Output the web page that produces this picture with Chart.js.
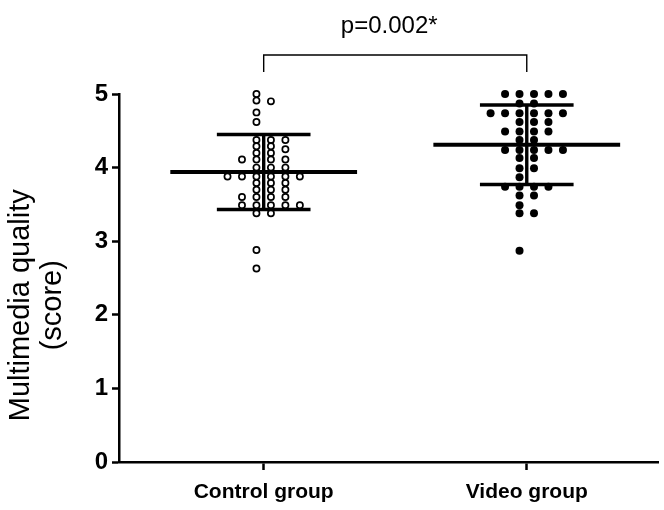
<!DOCTYPE html>
<html>
<head>
<meta charset="utf-8">
<script src="https://cdn.jsdelivr.net/npm/chart.js@4.4.0/dist/chart.umd.min.js"></script>
<style>
  html, body { margin: 0; padding: 0; background: #fff; }
  #wrap { width: 664px; height: 510px; }
</style>
</head>
<body>
<div id="wrap"><canvas id="chart"></canvas></div>
<script>
// groups on the x axis
const groups = ['Control group', 'Video group'];

// individual scores
const controlScores = [
  5.0, 4.91, 4.9, 4.75, 4.62,
  4.375, 4.375, 4.375, 4.29, 4.29, 4.25, 4.2, 4.2,
  4.11, 4.11, 4.11, 4.11, 4.0, 4.0, 4.0,
  3.88, 3.88, 3.88, 3.88, 3.88, 3.88,
  3.79, 3.79, 3.79, 3.7, 3.7, 3.7,
  3.6, 3.6, 3.6, 3.6,
  3.49, 3.49, 3.49, 3.49, 3.49,
  3.38, 3.38, 2.88, 2.63
];
const videoScores = [
  5.0, 5.0, 5.0, 5.0, 5.0, 4.87, 4.87,
  4.74, 4.74, 4.74, 4.74, 4.74, 4.74,
  4.62, 4.62, 4.62, 4.49, 4.49, 4.49, 4.49,
  4.375, 4.375, 4.24, 4.24, 4.24, 4.24, 4.24,
  4.13, 4.13, 3.99, 3.99, 3.87,
  3.74, 3.74, 3.74, 3.74, 3.62, 3.62,
  3.49, 3.38, 3.38, 2.87
];

// mean +/- SD bars
const groupMeans = [3.94, 4.31];
const groupSD = [0.51, 0.54];

// y axis range
const yMin = 0;
const yMax = 5;
const yStep = 1;

const yTitle = ['Multimedia quality', '(score)'];
const pLabel = 'p=0.002*';

const FONT = '"Liberation Sans", Arial, sans-serif';

// horizontal spread of tied dots (Prism style scatter)
const SLOT = 0.055;
const MIN_GAP = 0.082;
const slotOrder = [-0.5, 0.5, 1.5, -1.5, 2.5, -2.5, 3.5, -3.5];

function swarm(scores, center) {
  const last = {};
  return scores.slice().sort((a, b) => b - a).map(v => {
    let s = slotOrder.find(k => last[k] === undefined || last[k] - v >= MIN_GAP - 1e-9);
    if (s === undefined) s = slotOrder[slotOrder.length - 1];
    last[s] = v;
    return { x: center + s * SLOT, y: v };
  });
}

const MEAN_HALF = 0.355;
const SD_HALF = 0.178;

function seg(data, width) {
  return {
    type: 'line',
    data: data,
    borderColor: '#000',
    borderWidth: width,
    borderCapStyle: 'butt',
    pointRadius: 0,
    fill: false,
    clip: false,
    order: 1
  };
}

const barSets = [];
groups.forEach((g, i) => {
  const m = groupMeans[i], sd = groupSD[i];
  barSets.push(seg([{ x: i - MEAN_HALF, y: m }, { x: i + MEAN_HALF, y: m }], 4));
  barSets.push(seg([{ x: i - SD_HALF, y: m + sd }, { x: i + SD_HALF, y: m + sd }], 3.4));
  barSets.push(seg([{ x: i - SD_HALF, y: m - sd }, { x: i + SD_HALF, y: m - sd }], 3.4));
  barSets.push(seg([{ x: i, y: m - sd }, { x: i, y: m + sd }], 3.4));
});

// bracket with p value, and the y title
const extrasPlugin = {
  id: 'extras',
  afterDatasetsDraw(chart) {
    const { ctx, scales } = chart;
    const x0 = scales.x.getPixelForValue(0);
    const x1 = scales.x.getPixelForValue(1);
    const yTop = scales.y.getPixelForValue(5.53);
    const yLeg = scales.y.getPixelForValue(5.3);
    ctx.save();
    ctx.strokeStyle = '#000';
    ctx.lineWidth = 1.4;
    ctx.beginPath();
    ctx.moveTo(x0, yLeg);
    ctx.lineTo(x0, yTop);
    ctx.lineTo(x1, yTop);
    ctx.lineTo(x1, yLeg);
    ctx.stroke();
    ctx.fillStyle = '#000';
    ctx.font = '24px ' + FONT;
    ctx.textAlign = 'center';
    ctx.textBaseline = 'alphabetic';
    ctx.fillText(pLabel, (x0 + x1) / 2 - 6, yTop - 22);

    // y title, two lines, rotated
    ctx.font = '29px ' + FONT;
    ctx.textBaseline = 'middle';
    const midY = scales.y.getPixelForValue(2.13);
    ctx.translate(21, midY);
    ctx.rotate(-Math.PI / 2);
    ctx.fillText(yTitle[0], 0, 0);
    ctx.fillText(yTitle[1], 0, 32);
    ctx.restore();
  }
};

new Chart(document.getElementById('chart'), {
  type: 'scatter',
  data: {
    datasets: [
      {
        data: swarm(controlScores, 0),
        backgroundColor: '#fff',
        borderColor: '#000',
        borderWidth: 1.7,
        pointRadius: 3.1,
        clip: false,
        order: 2
      },
      {
        data: swarm(videoScores, 1),
        backgroundColor: '#000',
        borderColor: '#000',
        borderWidth: 0,
        pointRadius: 4,
        clip: false,
        order: 2
      },
      ...barSets
    ]
  },
  options: {
    responsive: true,
    maintainAspectRatio: false,
    animation: false,
    layout: { padding: { top: 94, right: 2, left: 0, bottom: 0 } },
    plugins: { legend: { display: false }, tooltip: { enabled: false } },
    scales: {
      x: {
        type: 'linear',
        min: -0.55,
        max: 1.5,
        afterBuildTicks: s => { s.ticks = groups.map((g, i) => ({ value: i })); },
        afterFit: s => { s.height = 48; },
        ticks: {
          callback: v => groups[v],
          color: '#000',
          font: { family: FONT, size: 21, weight: 'bold' },
          padding: 10,
          maxRotation: 0
        },
        grid: { drawOnChartArea: false, tickLength: 8, tickColor: '#000', tickWidth: 2.5 },
        border: { color: '#000', width: 2.5 }
      },
      y: {
        min: yMin,
        max: yMax,
        afterFit: s => { s.width = 119; },
        ticks: {
          stepSize: yStep,
          color: '#000',
          font: { family: FONT, size: 24, weight: 'bold' },
          padding: 4
        },
        grid: { drawOnChartArea: false, tickLength: 7, tickColor: '#000', tickWidth: 2.5 },
        border: { color: '#000', width: 2.5 }
      }
    }
  },
  plugins: [extrasPlugin]
});
</script>
</body>
</html>
